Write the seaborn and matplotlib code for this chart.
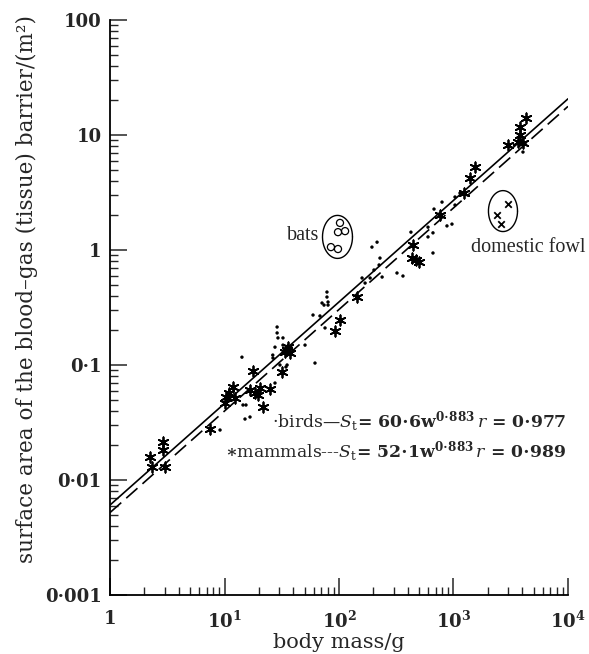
import numpy as np
import pandas as pd
import matplotlib
matplotlib.use("Agg")
import matplotlib.pyplot as plt
from matplotlib.ticker import LogLocator, NullFormatter
import seaborn as sns

# Body mass (g) and blood-gas barrier surface area (m^2)
mammal_mass = [2.24, 2.33, 2.90, 2.90, 3.02, 7.47, 10.1, 10.3, 10.9, 11.9,
               12.4, 17.7, 16.7, 18.5, 20.4, 19.6, 25.0, 21.7, 31.8, 35.2,
               37.3, 35.9, 33.8, 102, 92.3, 144, 443, 434, 470, 500,
               762, 1236, 1393, 1541, 2992, 3656, 4045, 3808, 3808, 4296]
mammal_area = [0.0158, 0.0130, 0.0214, 0.0182, 0.0130, 0.0277, 0.0468, 0.0527, 0.0571, 0.0644,
               0.0516, 0.0887, 0.0606, 0.0571, 0.0631, 0.0548, 0.0618, 0.0431, 0.0869, 0.135,
               0.127, 0.143, 0.130, 0.246, 0.198, 0.390, 1.10, 0.851, 0.818, 0.787,
               2.02, 3.13, 4.23, 5.27, 8.19, 8.69, 8.52, 10.0, 11.7, 14.1]

bird_mass = [9.14, 14.2, 14.5, 15.4, 15.1, 16.7, 27.6, 26.5, 27.6, 50.5,
             61.7, 30.5, 35.2, 28.8, 28.8, 29.3, 32.4, 32.4, 34.4, 59.3,
             68.2, 75.5, 78.5, 78.5, 80.2, 71.1, 74.0, 80.2, 159, 169,
             187, 194, 215, 228, 224, 202, 238, 321, 362, 425,
             599, 662, 599, 662, 676, 794, 877, 970, 1031, 1140,
             1031, 4045, 26.4]
bird_area = [0.0272, 0.117, 0.0449, 0.0449, 0.0339, 0.0353, 0.0697, 0.115, 0.143, 0.149,
             0.104, 0.100, 0.100, 0.214, 0.190, 0.172, 0.172, 0.149, 0.0961, 0.272,
             0.267, 0.210, 0.431, 0.390, 0.353, 0.346, 0.332, 0.332, 0.571, 0.516,
             0.571, 1.06, 1.17, 0.851, 0.741, 0.670, 0.582, 0.631, 0.594, 1.43,
             1.58, 1.41, 1.30, 0.942, 2.27, 2.61, 1.62, 1.68, 2.89, 3.13,
             2.46, 7.11, 0.122]

bat_mass = [102, 98, 113, 85, 98]
bat_area = [1.72, 1.43, 1.46, 1.06, 1.02]

fowl_mass = [2992, 2399, 2600]
fowl_area = [2.51, 2.02, 1.68]

# Allometric fits  S_t = a * w^b   (a in cm^2)
bird_coef = 60.6
mammal_coef = 52.1
exponent = 0.883
bird_r = 0.977
mammal_r = 0.989

# Outlier rings: centre mass, centre area, half-width and half-height in decades
bat_ring = (97, 1.30, 0.131, 0.187)
fowl_ring = (2706, 2.18, 0.127, 0.178)

x_ticks = [1, 10, 100, 1000, 10000]
x_tick_labels = ["1", r"$\mathbf{10^1}$", r"$\mathbf{10^2}$", r"$\mathbf{10^3}$", r"$\mathbf{10^4}$"]
y_ticks = [0.001, 0.01, 0.1, 1, 10, 100]
y_tick_labels = ["0·001", "0·01", "0·1", "1", "10", "100"]

sns.set_style("ticks")
plt.rcParams["font.family"] = ["DejaVu Serif", "DejaVu Sans"]
plt.rcParams["mathtext.fontset"] = "dejavuserif"

fig = plt.figure(figsize=(5.89, 6.54), dpi=100)
ax = fig.add_axes([0.1868, 0.0902, 0.7775, 0.8792])
ax.set_xscale("log")
ax.set_yscale("log")

# regression lines
w = np.geomspace(1, 1e4, 60)
fits = pd.DataFrame({
    "w": w,
    "birds": bird_coef * 1e-4 * w ** exponent,
    "mammals": mammal_coef * 1e-4 * w ** exponent,
})
sns.lineplot(data=fits, x="w", y="birds", color="black", lw=1.2, ax=ax)
sns.lineplot(data=fits, x="w", y="mammals", color="black", lw=1.2,
             dashes=False, ax=ax).lines[-1].set_dashes([9, 4])

# points
sns.scatterplot(x=bird_mass, y=bird_area, marker="o", s=6, color="black",
                edgecolor="none", ax=ax, zorder=3)
sns.scatterplot(x=mammal_mass, y=mammal_area, marker=(6, 2, 0), s=55,
                color="black", linewidth=1.3, ax=ax, zorder=4)
sns.scatterplot(x=bat_mass, y=bat_area, marker="o", s=26, facecolor="none",
                edgecolor="black", linewidth=0.9, ax=ax, zorder=4)
sns.scatterplot(x=fowl_mass, y=fowl_area, marker="x", s=22, color="black",
                linewidth=1.3, ax=ax, zorder=4)

# rings around bats and domestic fowl
t = np.linspace(0, 2 * np.pi, 240)
for cx, cy, a, b in (bat_ring, fowl_ring):
    ax.plot(10 ** (np.log10(cx) + a * np.cos(t)),
            10 ** (np.log10(cy) + b * np.sin(t)), color="black", lw=1.0)

note_font = dict(family=["Liberation Serif", "DejaVu Serif"], fontsize=14.5)
ax.text(68, 1.33, "bats", ha="right", va="center", **note_font)
ax.text(4470, 1.05, "domestic fowl", ha="center", va="center", **note_font)

# fit annotations
line1 = ("·birds—" + r"$S_{\rm t}\!\mathbf{=\,60{\cdot}6w^{0{\cdot}883}}\,r\,\mathbf{=\,0{\cdot}977}$")
line2 = (r"$\mathbf{\ast}$mammals---" + r"$S_{\rm t}\!\mathbf{=\,52{\cdot}1w^{0{\cdot}883}}\,r\,\mathbf{=\,0{\cdot}989}$")
ax.text(0.996, 0.301, line1, transform=ax.transAxes, ha="right", va="center", fontsize=12.4)
ax.text(0.996, 0.249, line2, transform=ax.transAxes, ha="right", va="center", fontsize=12.4)

ax.set_xlim(1, 1e4)
ax.set_ylim(1e-3, 100)
ax.set_xticks(x_ticks, x_tick_labels)
ax.set_yticks(y_ticks, y_tick_labels)
ax.xaxis.set_minor_locator(LogLocator(base=10, subs=np.arange(2, 10)))
ax.yaxis.set_minor_locator(LogLocator(base=10, subs=np.arange(2, 10)))
ax.xaxis.set_minor_formatter(NullFormatter())
ax.yaxis.set_minor_formatter(NullFormatter())
for lab in ax.get_xticklabels() + ax.get_yticklabels():
    lab.set_fontweight("bold")
    lab.set_fontsize(13)
ax.tick_params(which="major", direction="in", length=12, width=1.1, pad=6)
ax.tick_params(which="minor", direction="in", length=6, width=1.0)
ax.tick_params(axis="x", which="major", pad=11)

sns.despine(ax=ax)
for side in ("left", "bottom"):
    ax.spines[side].set_linewidth(1.3)
    ax.spines[side].set_color("black")

ax.set_xlabel("body mass/g", fontsize=15, labelpad=1)
ax.set_ylabel("surface area of the blood–gas (tissue) barrier/(m²)", fontsize=15.5)
ax.yaxis.set_label_coords(-0.157, 0.532)

fig.savefig("out.png", dpi=100)
